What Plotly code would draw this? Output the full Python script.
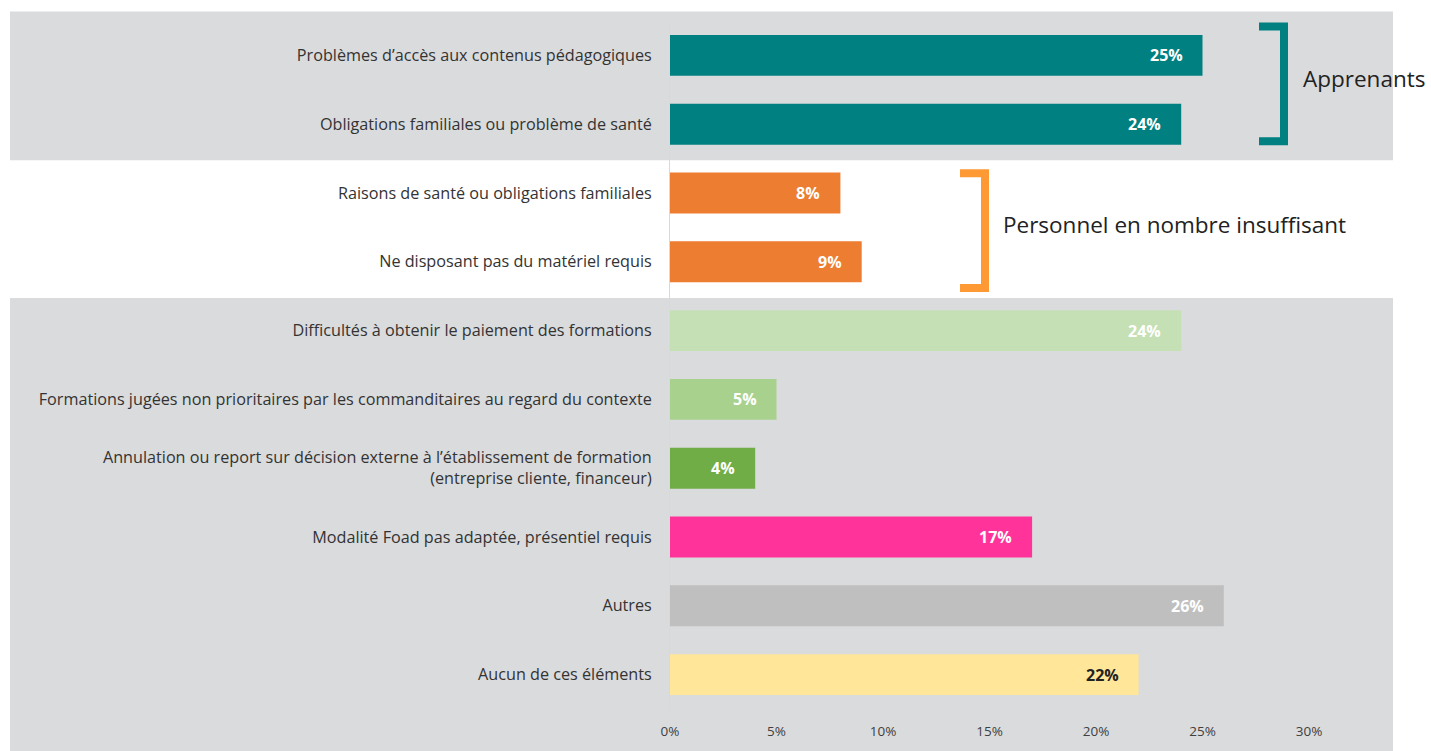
import plotly.graph_objects as go

categories = [
    "Problèmes d’accès aux contenus pédagogiques",
    "Obligations familiales ou problème de santé",
    "Raisons de santé ou obligations familiales",
    "Ne disposant pas du matériel requis",
    "Difficultés à obtenir le paiement des formations",
    "Formations jugées non prioritaires par les commanditaires au regard du contexte",
    "Annulation ou report sur décision externe à l’établissement de formation<br>(entreprise cliente, financeur)",
    "Modalité Foad pas adaptée, présentiel requis",
    "Autres",
    "Aucun de ces éléments",
]
values = [25, 24, 8, 9, 24, 5, 4, 17, 26, 22]
bar_colors = ["#008080", "#008080", "#ED7D31", "#ED7D31", "#C5E0B4",
              "#A9D18E", "#70AD47", "#FF3399", "#BFBFBF", "#FFE699"]
label_colors = ["#FFFFFF"] * 9 + ["#222222"]
x_ticks = [0, 5, 10, 15, 20, 25, 30]
x_tick_labels = ["0%", "5%", "10%", "15%", "20%", "25%", "30%"]
group_labels = ["Apprenants", "Personnel en nombre insuffisant"]

W, H = 1431, 751
L, R = 670, 1309          # plot area in px
T, B = 20.5, 709.5


def px_x(px):
    return (px - L) / (R - L)


def px_y(py):
    return 1 - (py - T) / (B - T)


fig = go.Figure()
fig.add_trace(go.Bar(
    y=categories, x=values, orientation="h",
    marker=dict(color=bar_colors, line=dict(width=0)),
    width=0.595, hoverinfo="skip",
))

# value labels inside bar ends
for c, v, col in zip(categories, values, label_colors):
    fig.add_annotation(x=v, y=c, xref="x", yref="y", text=f"<b>{v}%</b>",
                       showarrow=False, xanchor="right", xshift=-18,
                       font=dict(size=16, color=col, family="Open Sans"))

shapes = []
gray = "#DADBDD"
shapes.append(dict(type="rect", xref="paper", yref="paper", layer="below",
                   x0=px_x(10), x1=px_x(1393), y0=px_y(160), y1=px_y(11),
                   fillcolor=gray, line=dict(width=0)))
shapes.append(dict(type="rect", xref="paper", yref="paper", layer="below",
                   x0=px_x(10), x1=px_x(1393), y0=px_y(760), y1=px_y(298),
                   fillcolor=gray, line=dict(width=0)))


def bracket(x0, x1, y0, y1, color):
    path = (f"M {px_x(x0)} {px_y(y0)} L {px_x(x1)} {px_y(y0)} "
            f"L {px_x(x1)} {px_y(y1)} L {px_x(x0)} {px_y(y1)}")
    return dict(type="path", xref="paper", yref="paper", path=path,
                line=dict(color=color, width=8), layer="above")


shapes.append(bracket(1259, 1284, 26, 141, "#008080"))
shapes.append(bracket(960, 985, 173, 288, "#FF9933"))
fig.update_layout(shapes=shapes)

fig.add_annotation(x=px_x(1301), y=px_y(78), xref="paper", yref="paper",
                   text=group_labels[0], showarrow=False, xanchor="left",
                   yanchor="middle", font=dict(size=22.5, color="#222222", family="Open Sans"))
fig.add_annotation(x=px_x(1001), y=px_y(224), xref="paper", yref="paper",
                   text=group_labels[1], showarrow=False, xanchor="left",
                   yanchor="middle", font=dict(size=22.5, color="#222222", family="Open Sans"))

fig.update_layout(
    width=W, height=H,
    margin=dict(l=L, r=W - R, t=T, b=H - B, pad=0),
    paper_bgcolor="white", plot_bgcolor="rgba(0,0,0,0)",
    showlegend=False,
    font=dict(family="Open Sans", color="#333333"),
    xaxis=dict(range=[0, 30], tickvals=x_ticks, ticktext=x_tick_labels,
               showgrid=False, zeroline=False, showline=False,
               tickfont=dict(size=13.5, color="#404040"), ticks="",
               ticklabelstandoff=12, fixedrange=True),
    yaxis=dict(categoryorder="array", categoryarray=categories,
               range=[9.5, -0.5], showgrid=False, zeroline=False,
               showline=True, linecolor="#D9D9D9", linewidth=1,
               tickfont=dict(size=16.2, color="#333333"), ticks="",
               ticklabelstandoff=14, fixedrange=True),
)

fig.write_html("out.html", config={"displayModeBar": False},
               post_script="document.body.style.margin='0';document.body.style.overflow='hidden';")
